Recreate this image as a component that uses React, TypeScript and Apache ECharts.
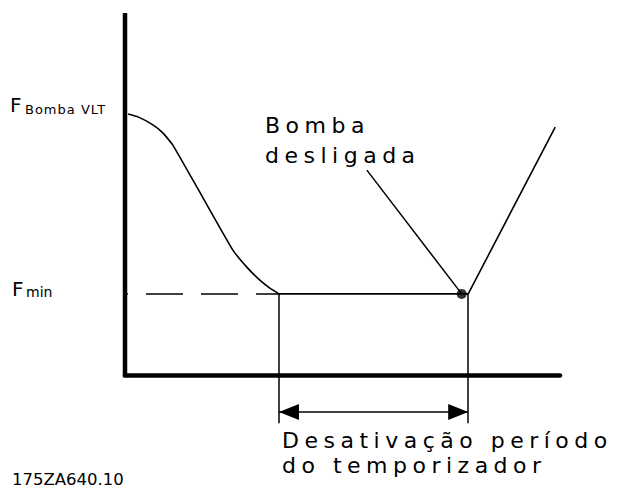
import React, { useEffect, useRef } from "react";
import * as echarts from "echarts";

// Time axis (0–100) and frequency axis (0–100) values
const curveT = [0.7, 3.0, 6.4, 8.7, 11.0, 17.9, 24.8, 28.0, 31.0, 33.3, 35.4];
const curveF = [72.1, 71.3, 69.1, 66.9, 63.5, 49.0, 34.5, 29.8, 26.2, 24.0, 22.4];
const holdT = [35.4, 78.9, 98.9];
const holdF = [22.4, 22.4, 68.5];
const F_MIN = 22.4;
const dashT = [-4.6, 35.4];
const T_STOP = 35.4;
const T_OFF = 78.9;
const T_DOT = 77.4;
const leaderT = [55.6, 77.4];
const leaderF = [56.6, 22.4];
const DROP_F = -13.3;
const ARROW_F = -10.2;
const axisT = [0, 0];
const axisF = [-0.6, 100];

const labelTop = "F";
const labelTopSub = "Bomba VLT";
const labelMin = "F";
const labelMinSub = "min";
const labelPump = "Bomba\ndesligada";
const labelPeriod = "Desativação período\ndo temporizador";
const drawingId = "175ZA640.10";

const FONT = "'DejaVu Sans', 'Noto Sans', sans-serif";

const pairs = (xs: number[], ys: number[]) => xs.map((x, i) => [x, ys[i]]);

export default function App() {
  const ref = useRef<HTMLDivElement>(null);
  useEffect(() => {
    if (!ref.current) return;
    const chart = echarts.init(ref.current, undefined, { renderer: "svg" });
    const black = "#000";
    const arrowEnd = (t: number, f: number) => ({
      coord: [t, f],
      symbol: "triangle",
      symbolSize: [16, 20],
      symbolOffset: [0, 10],
    });
    chart.setOption({
      animation: false,
      backgroundColor: "#fff",
      grid: { left: 125, right: 63, top: 13, bottom: 56.1 },
      xAxis: {
        type: "value",
        min: 0,
        max: 100,
        axisLine: { show: true, onZero: true, lineStyle: { color: black, width: 4.5 } },
        axisTick: { show: false },
        axisLabel: { show: false },
        splitLine: { show: false },
      },
      yAxis: {
        type: "value",
        min: -16,
        max: 100,
        axisLine: { show: false },
        axisTick: { show: false },
        axisLabel: { show: false },
        splitLine: { show: false },
      },
      series: [
        {
          name: "eixo",
          type: "line",
          data: pairs(axisT, axisF),
          showSymbol: false,
          lineStyle: { color: black, width: 4.5 },
          silent: true,
        },
        {
          name: "fmin-ref",
          type: "line",
          data: pairs(dashT, [F_MIN, F_MIN]),
          clip: false,
          showSymbol: false,
          lineStyle: { color: black, width: 1.5, type: [37, 18], dashOffset: 14 },
          silent: true,
        },
        {
          name: "rampa",
          type: "line",
          data: pairs(curveT, curveF),
          smooth: 0.12,
          showSymbol: false,
          lineStyle: { color: black, width: 1.6 },
          silent: true,
        },
        {
          name: "sleep",
          type: "line",
          data: pairs(holdT, holdF),
          showSymbol: false,
          lineStyle: { color: black, width: 1.6 },
          silent: true,
        },
        {
          name: "leader",
          type: "line",
          data: pairs(leaderT, leaderF),
          showSymbol: false,
          lineStyle: { color: black, width: 1.5 },
          silent: true,
        },
        {
          name: "dot",
          type: "scatter",
          data: [[T_DOT, F_MIN]],
          symbolSize: 10,
          itemStyle: { color: black },
          silent: true,
        },
        {
          name: "marks",
          type: "line",
          data: [],
          markLine: {
            silent: true,
            animation: false,
            symbol: ["none", "none"],
            label: { show: false },
            lineStyle: { color: black, width: 1.5, type: "solid" },
            data: [
              [{ coord: [T_STOP, F_MIN] }, { coord: [T_STOP, DROP_F] }],
              [{ coord: [T_OFF, F_MIN] }, { coord: [T_OFF, DROP_F] }],
            ],
          },
        },
        {
          name: "periodo",
          type: "line",
          data: [],
          markLine: {
            silent: true,
            animation: false,
            symbol: ["triangle", "triangle"],
            label: { show: false },
            lineStyle: { color: black, width: 1.5, type: "solid" },
            itemStyle: { color: black },
            data: [[arrowEnd(T_STOP, ARROW_F), arrowEnd(T_OFF, ARROW_F)]],
          },
        },
      ],
      graphic: [
        { type: "text", style: { text: labelTop, x: 10, y: 105.1, fontSize: 20, fontFamily: FONT, fill: black, align: "left", verticalAlign: "middle" } },
        { type: "text", style: { text: labelTopSub, x: 25, y: 109.5, fontSize: 13, fontFamily: FONT, fill: black, align: "left", verticalAlign: "middle" } },
        { type: "text", style: { text: labelMin, x: 12, y: 289, fontSize: 20, fontFamily: FONT, fill: black, align: "left", verticalAlign: "middle" } },
        { type: "text", style: { text: labelMinSub, x: 26, y: 292, fontSize: 14, fontFamily: FONT, fill: black, align: "left", verticalAlign: "middle" } },
        { type: "text", style: { text: labelPump, x: 265, y: 110.4, fontSize: 22, lineHeight: 30, fontFamily: FONT, fill: black, align: "left", verticalAlign: "top" } },
        { type: "text", style: { text: labelPeriod, x: 282, y: 427.9, fontSize: 22, lineHeight: 25, fontFamily: FONT, fill: black, align: "left", verticalAlign: "top" } },
        { type: "text", style: { text: drawingId, x: 12, y: 479, fontSize: 16.5, fontFamily: FONT, fill: black, align: "left", verticalAlign: "middle" } },
      ],
    });
    return () => chart.dispose();
  }, []);
  return (
    <>
      <style>{`
        #chart text[style*="22px"] { letter-spacing: 5.5px; }
        #chart text[style*="13px"] { letter-spacing: 1px; }
      `}</style>
      <div
        id="chart"
        ref={ref}
        style={{ position: "fixed", left: 0, top: 0, width: 623, height: 489 }}
      />
    </>
  );
}
